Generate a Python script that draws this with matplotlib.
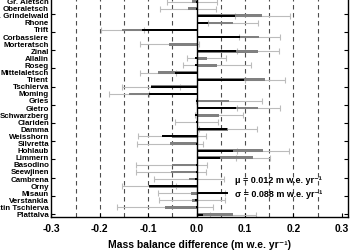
import matplotlib
matplotlib.use('Agg')
import matplotlib.pyplot as plt
from matplotlib.transforms import blended_transform_factory
import numpy as np

plt.rcParams['font.family'] = ['Liberation Sans', 'DejaVu Sans']
plt.rcParams['font.weight'] = 'bold'

glaciers = ["Gr. Aletsch", "Oberaletsch", "U. Grindelwald", "Rhone", "Trift",
            "Corbassiere", "Morteratsch", "Zinal", "Allalin", "Roseg",
            "Mittelaletsch", "Trient", "Tschierva", "Moming", "Gries", "Gietro",
            "Schwarzberg", "Clariden", "Damma", "Weisshorn", "Silvretta",
            "Hohlaub", "Limmern", "Basodino", "Seewjinen", "Cambrena", "Orny",
            "Misaun", "Verstankla", "Vadrettin Tschierva", "Plattalva"]

black_vals = [-0.002, -0.002, 0.079, 0.024, -0.112, 0.089, 0.003, 0.082, -0.004,
              -0.004, -0.044, 0.099, -0.095, -0.099, -0.002, 0.082, -0.003,
              -0.002, 0.062, -0.071, -0.002, 0.075, 0.048, -0.002, -0.002,
              -0.003, -0.099, 0.066, -0.003, -0.002, 0.013]
gray_vals = [-0.009, -0.017, 0.136, 0.075, -0.153, 0.130, -0.056, 0.127, 0.021,
             0.042, -0.080, 0.142, -0.094, -0.140, 0.067, 0.128, 0.046,
             0.000, 0.065, -0.050, -0.055, 0.137, 0.116, -0.051, -0.053,
             -0.015, -0.098, -0.011, -0.010, -0.065, 0.075]
err_vals = [0.051, 0.058, 0.057, 0.051, 0.045, 0.043, 0.061, 0.043, 0.040,
            0.070, 0.037, 0.041, 0.059, 0.041, 0.069, 0.045, 0.050,
            0.045, 0.060, 0.070, 0.068, 0.054, 0.035, 0.073, 0.072,
            0.072, 0.056, 0.069, 0.068, 0.099, 0.048]

xticks = [-0.3, -0.2, -0.1, 0.0, 0.1, 0.2, 0.3]
xticklabels = ["-0.3", "-0.2", "-0.1", "0.0", "0.1", "0.2", "0.3"]
grid_vals = [-0.25, -0.2, -0.15, -0.1, -0.05, 0.05, 0.1, 0.15, 0.2, 0.25]

mu_text = "μ = 0.012 m w.e. yr⁻¹"
sigma_text = "σ = 0.088 m w.e. yr⁻¹"
xlabel_text = "Mass balance difference (m w.e. yr⁻¹)"

fig = plt.figure(figsize=(3.5, 2.53), dpi=100)
ax = fig.add_axes([51.3 / 350, 35.3 / 253, 296.5 / 350, 222.2 / 253])

ypos = np.arange(len(glaciers))

for v in grid_vals:
    ax.axvline(v, color='0.3', lw=0.8, dashes=(4.0, 3.2), zorder=1)
ax.axvline(0.0, color='black', lw=1.0, zorder=5)

ax.errorbar(gray_vals, ypos, xerr=err_vals, fmt='none', ecolor='#bcbcbc',
            elinewidth=0.8, capsize=2.2, capthick=0.8, zorder=2)
ax.barh(ypos, gray_vals, height=0.38, color='#808080', edgecolor='none', zorder=3)
ax.barh(ypos, black_vals, height=0.28, color='black', edgecolor='none', zorder=4)

ax.set_xlim(-0.3, 0.3125)
ax.set_ylim(30.3, -1.0)

ax.set_xticks(xticks)
ax.set_xticklabels(xticklabels, fontsize=7.4, fontweight='bold')
ytick_pos = [1.73 + 2.563 * k for k in range(12)]
ax.set_yticks(ytick_pos)
ax.set_yticklabels([])
ax.tick_params(axis='both', direction='in', length=3, width=0.8,
               right=True, top=False, pad=4.5)

trans = blended_transform_factory(ax.transAxes, ax.transData)
for y, name in zip(ypos, glaciers):
    ax.text(-0.008, y, name, transform=trans, ha='right', va='center',
            fontsize=5.7, fontweight='bold', clip_on=False)

ax.text(0.0795, 25, mu_text, ha='left', va='center', fontsize=6.5,
        fontweight='bold', zorder=6)
ax.text(0.0795, 27.1, sigma_text, ha='left', va='center', fontsize=6.5,
        fontweight='bold', zorder=6)

ax.set_xlabel(xlabel_text, fontsize=7.5, fontweight='bold', labelpad=4.5)

for s in ['left', 'right', 'bottom', 'top']:
    ax.spines[s].set_linewidth(1.0)

fig.savefig('out.png', dpi=100)
